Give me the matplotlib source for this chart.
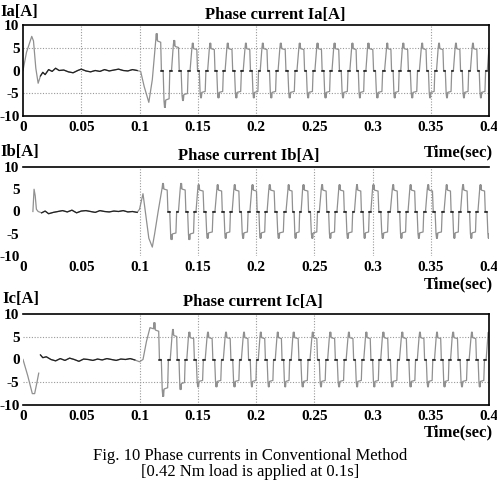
"""Phase currents Ia/Ib/Ic in the conventional method (0.42 Nm load at 0.1 s)."""
import numpy as np
import matplotlib
matplotlib.use("Agg")
import matplotlib.pyplot as plt

# ---- data ---------------------------------------------------------------------
# one electrical cycle, starting at the positive commutation peak ("M") and ending at the next
CYCLE_FRAC = [0.00, 0.03, 0.05, 0.07, 0.10, 0.28, 0.32, 0.34, 0.42, 0.47, 0.50, 0.52, 0.54,
              0.57, 0.76, 0.80, 0.82, 0.90, 1.00]
CYCLE_VAL = [5.0, 6.0, 5.0, 6.0, 4.8, 4.6, 0.0, 0.0, 0.0, -5.0, -6.0, -5.0, -6.0,
             -4.8, -4.6, 0.0, 0.0, 0.0, 5.0]

# start-up transient and the first load step (t < first peak)
IA_PRE_T = [0.000, 0.003, 0.0075, 0.009, 0.011, 0.013, 0.015, 0.017, 0.019, 0.022, 0.025, 0.028,
            0.031, 0.035, 0.039, 0.043, 0.047, 0.050, 0.054, 0.058, 0.062, 0.066, 0.070, 0.074,
            0.078, 0.082, 0.086, 0.090, 0.094, 0.098, 0.101, 0.104, 0.108, 0.111]
IA_PRE_V = [0.0, 4.0, 7.5, 6.5, 0.5, -2.8, -1.2, -0.4, -0.9, 0.2, -0.2, 0.5,
            0.0, 0.1, -0.3, -0.5, 0.0, 0.3, -0.1, -0.3, 0.0, -0.2, 0.2, -0.1,
            0.1, 0.3, 0.0, -0.1, 0.2, 0.0, -0.2, -3.5, -7.0, -2.0]
IB_PRE_T = [0.0085, 0.0095, 0.0105, 0.0115, 0.013, 0.016, 0.019, 0.022, 0.026, 0.030, 0.034,
            0.038, 0.042, 0.046, 0.050, 0.054, 0.058, 0.062, 0.066, 0.070, 0.074, 0.078, 0.082,
            0.086, 0.090, 0.094, 0.098, 0.100, 0.103, 0.105, 0.108, 0.111, 0.113, 0.116]
IB_PRE_V = [0.0, 5.0, 3.5, 0.5, 0.0, -0.3, 0.1, -0.5, -0.2, 0.0, 0.2,
            -0.1, 0.3, -0.3, 0.1, 0.2, 0.0, -0.2, 0.2, 0.0, -0.1, 0.1, 0.0,
            0.2, -0.1, 0.0, -0.2, 0.5, 4.0, 0.0, -6.0, -8.0, -5.0, 0.0]
IC_PRE_T = [0.000, 0.004, 0.008, 0.010, 0.012, 0.0135, 0.014, 0.015, 0.017, 0.020, 0.024, 0.028,
            0.032, 0.036, 0.040, 0.044, 0.048, 0.052, 0.056, 0.060, 0.064, 0.068, 0.072, 0.076,
            0.080, 0.084, 0.088, 0.092, 0.096, 0.100, 0.103, 0.106, 0.109]
IC_PRE_V = [0.0, -3.5, -7.5, -7.5, -5.0, -3.0, np.nan, 1.0, 0.4, 0.6, 0.0, -0.3,
            0.2, -0.2, 0.3, 0.0, -0.4, 0.1, 0.0, -0.2, 0.1, -0.1, 0.2, 0.0,
            -0.2, 0.1, 0.0, 0.2, -0.1, -0.5, 0.0, 4.0, 7.0]

# times of the positive commutation peaks after the load step
IA_PEAKS = [0.114, 0.129, 0.145, 0.160, 0.175, 0.1906, 0.2051, 0.2205, 0.2368, 0.2521, 0.2667,
            0.2821, 0.2957, 0.3120, 0.3256, 0.3419, 0.3564, 0.3709, 0.3855, 0.400]
IB_PEAKS = [0.1194, 0.135, 0.150, 0.1664, 0.181, 0.1963, 0.211, 0.2274, 0.240, 0.256, 0.271,
            0.286, 0.300, 0.317, 0.332, 0.347, 0.363, 0.377, 0.392]
IC_PEAKS = [0.112, 0.128, 0.142, 0.158, 0.1735, 0.189, 0.2034, 0.218, 0.2316, 0.248, 0.263,
            0.279, 0.294, 0.3085, 0.3248, 0.340, 0.3547, 0.3684, 0.3846, 0.399]
# overshoot of the first cycles after the step
IA_GAIN = [1.35, 1.1]
IB_GAIN = [1.05, 1.05]
IC_GAIN = [1.35, 1.1]

XTICKS = [0, 0.05, 0.1, 0.15, 0.2, 0.25, 0.3, 0.35, 0.4]
XLABELS = ["0", "0.05", "0.1", "0.15", "0.2", "0.25", "0.3", "0.35", "0.4"]
YTICKS = [10, 5, 0, -5, -10]
YLABELS = ["10", "5", "0", "-5", "-10"]

SERIF = "Liberation Serif"
W, H = 497, 480


def build_wave(pre_t, pre_v, peaks, gain):
    """Start-up points followed by one read cycle per commutation peak."""
    t_parts = [np.asarray(pre_t, float)]
    v_parts = [np.asarray(pre_v, float)]
    frac = np.asarray(CYCLE_FRAC)
    val = np.asarray(CYCLE_VAL)
    for k, p in enumerate(peaks):
        period = peaks[k + 1] - p if k + 1 < len(peaks) else p - peaks[k - 1]
        g = gain[k] if k < len(gain) else 1.0
        t_parts.append(p + frac[:-1] * period)
        v_parts.append(val[:-1] * g)
    return np.concatenate(t_parts), np.concatenate(v_parts)


def fig_xy(px, py):
    return px / W, 1 - py / H


def draw_panel(ax, t, v, vlines, hgrid, spines):
    ax.set_xlim(0, 0.4)
    ax.set_ylim(-10, 10)
    for x in vlines:
        ax.axvline(x, color="#999999", lw=0.8, ls=(0, (1, 1.5)), zorder=1)
    if hgrid:
        for y in (5, -5):
            ax.axhline(y, color="#999999", lw=0.8, ls=(0, (1, 1.5)), zorder=1)
    ax.plot(t, v, color="#909090", lw=0.9, zorder=2)
    # the zero-current plateaus and the no-load part print darker
    zero = np.where(v == 0, v, np.nan)
    ax.plot(t, zero, color="#111111", lw=1.1, zorder=3)
    calm = (t > 0.014) & (t < 0.1)
    ax.plot(np.where(calm, t, np.nan), v, color="#222222", lw=0.9, zorder=3)

    ax.set_xticks(XTICKS)
    ax.set_xticklabels(XLABELS)
    ax.set_yticks(YTICKS)
    ax.set_yticklabels(YLABELS)
    ax.tick_params(length=0, labelsize=11)
    ax.tick_params(axis="x", pad=3.5)
    ax.tick_params(axis="y", pad=2.5)
    for lab in ax.get_xticklabels() + ax.get_yticklabels():
        lab.set_fontfamily(SERIF)
        lab.set_fontweight("bold")
    for side in ("top", "bottom", "left", "right"):
        ax.spines[side].set_visible(side in spines)
        ax.spines[side].set_linewidth(1.2)


def main():
    fig = plt.figure(figsize=(W / 100, H / 100), dpi=100)
    fig.patch.set_facecolor("white")

    # (top px, bottom px) of each panel
    rows = [(25, 116), (167, 256), (314, 405)]
    left, right = 23, 489
    axes = []
    for top, bot in rows:
        x0, y0 = fig_xy(left, bot)
        axes.append(fig.add_axes([x0, y0, (right - left) / W, (bot - top) / H]))

    ta, va = build_wave(IA_PRE_T, IA_PRE_V, IA_PEAKS, IA_GAIN)
    tb, vb = build_wave(IB_PRE_T, IB_PRE_V, IB_PEAKS, IB_GAIN)
    tc, vc = build_wave(IC_PRE_T, IC_PRE_V, IC_PEAKS, IC_GAIN)

    draw_panel(axes[0], ta, va, [0.05, 0.1, 0.15, 0.2, 0.35], True,
               ("top", "bottom", "left", "right"))
    draw_panel(axes[1], tb, vb, [0.1, 0.15, 0.2, 0.25, 0.3, 0.35], False, ("top",))
    draw_panel(axes[2], tc, vc, [0.1, 0.15, 0.2, 0.25], True, ("top", "bottom", "right"))

    bold = dict(fontfamily=SERIF, fontweight="bold", fontsize=12)
    # panel titles, unit labels, time labels (pixel positions from the scan)
    for (name, tx, ty, ux, uy) in [("Ia[A]", 275, 15, 0, 12),
                                   ("Ib[A]", 249, 156, 0, 152),
                                   ("Ic[A]", 253, 302, 2, 299)]:
        fig.text(*fig_xy(tx, ty), f"Phase current {name}", ha="center", va="center", **bold)
        fig.text(*fig_xy(ux, uy), name, ha="left", va="center", **bold)
    for ty in (152, 284, 432):
        fig.text(*fig_xy(493, ty), "Time(sec)", ha="right", va="center", **bold)

    fig.text(*fig_xy(250, 456), "Fig. 10 Phase currents in Conventional Method",
             ha="center", va="center", fontfamily=SERIF, fontsize=12)
    fig.text(*fig_xy(250, 472), "[0.42 Nm load is applied at 0.1s]",
             ha="center", va="center", fontfamily=SERIF, fontsize=12)

    fig.savefig("out.png", dpi=100)
    plt.close(fig)


if __name__ == "__main__":
    main()
